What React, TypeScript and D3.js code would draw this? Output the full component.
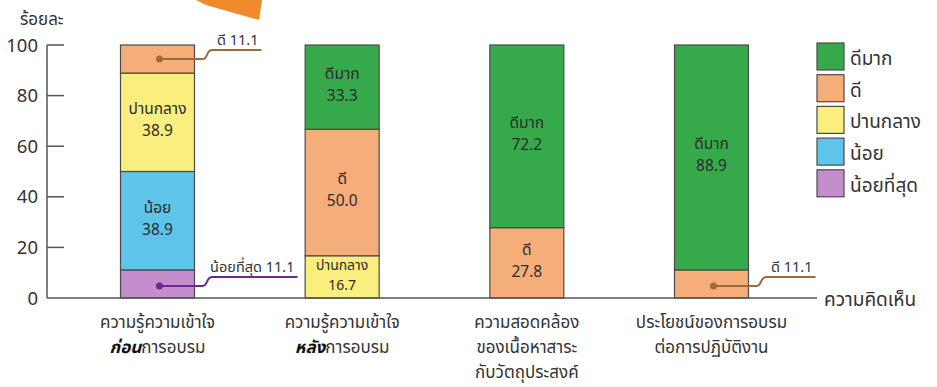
import React from "react";
import * as d3 from "d3";

const categories = ["before", "after", "relevance", "benefit"];
const levels = ["น้อยที่สุด", "น้อย", "ปานกลาง", "ดี", "ดีมาก"];
const legendOrder = ["ดีมาก", "ดี", "ปานกลาง", "น้อย", "น้อยที่สุด"];
const levelColors = ["#c48dcc", "#5ec4ea", "#f9ee7e", "#f5ae7a", "#36aa4b"];
// values per category, bottom to top in `levels` order
const valuesBefore = [11.1, 38.9, 38.9, 11.1, 0];
const valuesAfter = [0, 0, 16.7, 50.0, 33.3];
const valuesRelevance = [0, 0, 0, 27.8, 72.2];
const valuesBenefit = [0, 0, 0, 11.1, 88.9];
const seriesValues = [valuesBefore, valuesAfter, valuesRelevance, valuesBenefit];
const yTicks = [0, 20, 40, 60, 80, 100];
// category labels: lines of [normal/emph parts]
const categoryLabels: { t: string; b?: boolean }[][][] = [
  [[{ t: "ความรู้ความเข้าใจ" }], [{ t: "ก่อน", b: true }, { t: "การอบรม" }]],
  [[{ t: "ความรู้ความเข้าใจ" }], [{ t: "หลัง", b: true }, { t: "การอบรม" }]],
  [[{ t: "ความสอดคล้อง" }], [{ t: "ของเนื้อหาสาระ" }], [{ t: "กับวัตถุประสงค์" }]],
  [[{ t: "ประโยชน์ของการอบรม" }], [{ t: "ต่อการปฏิบัติงาน" }]],
];
// segments labelled inside the bar: [category index, level index]
const insideLabels = [
  [0, 2], [0, 1], [1, 4], [1, 3], [1, 2], [2, 4], [2, 3], [3, 4],
];
// segments labelled with callouts: [category index, level index, colour]
const callouts: [number, number, string][] = [
  [0, 3, "#a0693c"],
  [0, 0, "#6b2a87"],
  [3, 3, "#a0693c"],
];

const FONT = "'Noto Sans Thai', 'Noto Sans', sans-serif";

export default function App() {
  const W = 937, H = 387;
  const y = d3.scaleLinear().domain([0, 100]).range([298, 45]);
  const x = d3.scalePoint<string>().domain(categories).range([157.5, 711.5]);
  const bw = 74;
  const axisX = 47;

  const stacks = seriesValues.map((vals) => {
    let acc = 0;
    return vals.map((v) => {
      const s = { y0: acc, y1: acc + v, v };
      acc += v;
      return s;
    });
  });

  return (
    <svg width={W} height={H} style={{ display: "block", position: "absolute", left: 0, top: 0, background: "#fff" }}>
      <rect width={W} height={H} fill="#fff" />
      {/* decorative banner */}
      <polygon points="196,0 262,0 259,20 206,5" fill="#f0892a" />
      {/* y axis title */}
      <text x={20} y={25} fontFamily={FONT} fontSize={17} fill="#333">ร้อยละ</text>
      {/* y axis */}
      <line x1={axisX} x2={axisX} y1={y(100)} y2={y(0)} stroke="#555" strokeWidth={1.5} />
      {yTicks.map((t) => (
        <g key={t}>
          {t > 0 && <line x1={axisX} x2={axisX + 17} y1={y(t)} y2={y(t)} stroke="#555" strokeWidth={1.5} />}
          <text x={38} y={y(t)} dy="0.36em" textAnchor="end" fontFamily={FONT} fontSize={18.5} fill="#333">{t}</text>
        </g>
      ))}
      {/* bars */}
      {categories.map((c, ci) =>
        stacks[ci].map((s, li) =>
          s.v > 0 ? (
            <rect key={c + li} x={(x(c) as number) - bw / 2} y={y(s.y1)} width={bw} height={y(s.y0) - y(s.y1)}
              fill={levelColors[li]} stroke="#4a4a4a" strokeWidth={1.2} />
          ) : null
        )
      )}
      {/* x axis */}
      <line x1={axisX} x2={817} y1={y(0)} y2={y(0)} stroke="#555" strokeWidth={1.5} />
      <text x={824} y={y(0)} dy="0.4em" fontFamily={FONT} fontSize={19} fill="#333">ความคิดเห็น</text>
      {/* inside labels */}
      {insideLabels.map(([ci, li]) => {
        const s = stacks[ci][li];
        const cy = y((s.y0 + s.y1) / 2);
        const small = s.v < 20;
        const fs = small ? 14 : 15.5;
        const gap = small ? 8 : 9;
        return (
          <g key={"l" + ci + li} fontFamily={FONT} fontSize={fs} fill="#2b2b2b" textAnchor="middle">
            <text x={x(categories[ci])} y={cy - gap + 1}>{levels[li]}</text>
            <text x={x(categories[ci])} y={cy + gap + 5}>{s.v.toFixed(1)}</text>
          </g>
        );
      })}
      {/* callouts */}
      {callouts.map(([ci, li, col]) => {
        const s = stacks[ci][li];
        const cx = x(categories[ci]) as number;
        const dotX = cx + 2;
        const dotY = y((s.y0 + s.y1) / 2) + (li === 3 && ci === 0 ? 0 : 2);
        const x1 = cx + bw / 2 + 8;
        const lineY = dotY - 9;
        const label = `${levels[li]} ${s.v.toFixed(1)}`;
        const endX = ci === 0 && li === 0 ? cx + 140 : cx + 104;
        const path = d3.path();
        path.moveTo(dotX, dotY);
        path.lineTo(x1, dotY);
        path.bezierCurveTo(x1 + 6, dotY, x1 + 3, lineY, x1 + 10, lineY);
        path.lineTo(endX, lineY);
        return (
          <g key={"c" + ci + li}>
            <path d={path.toString()} fill="none" stroke={col} strokeWidth={2} />
            <circle cx={dotX} cy={dotY} r={3.5} fill={col} />
            <text x={endX - 3} y={lineY - 5} textAnchor="end" fontFamily={FONT} fontSize={14.5} fill="#333">{label}</text>
          </g>
        );
      })}
      {/* category labels */}
      {categoryLabels.map((lines, ci) => (
        <g key={"cat" + ci}>
          {lines.map((parts, k) => (
            <text key={k} x={x(categories[ci])} y={328 + k * 25} textAnchor="middle" fontFamily={FONT} fontSize={17} fill="#333">
              {parts.map((p, j) => (
                <tspan key={j} fontWeight={p.b ? "bold" : "normal"} fontStyle={p.b ? "italic" : "normal"} fill={p.b ? "#111" : "#333"}>{p.t}</tspan>
              ))}
            </text>
          ))}
        </g>
      ))}
      {/* legend */}
      {legendOrder.map((name, i) => {
        const li = levels.indexOf(name);
        return (
          <g key={name} transform={`translate(817, ${43 + i * 31.7})`}>
            <rect width={27} height={27} fill={levelColors[li]} stroke="#4a4a4a" strokeWidth={1.2} />
            <text x={33} y={22} fontFamily={FONT} fontSize={19} fill="#333">{name}</text>
          </g>
        );
      })}
    </svg>
  );
}
